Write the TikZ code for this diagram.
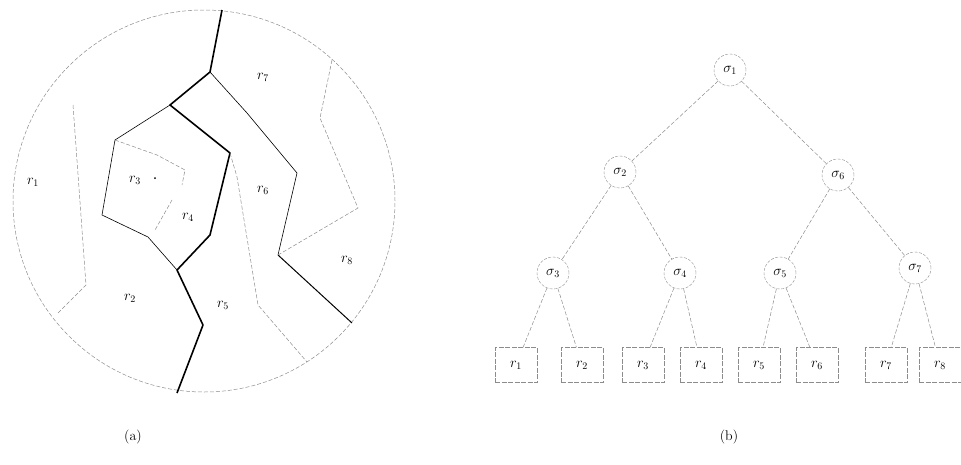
\documentclass[tikz,border=0pt]{standalone}
\usepackage{amsmath,amssymb}
\usepackage{tikz}
\usepackage{xcolor}
\usetikzlibrary{calc}
\definecolor{scan}{HTML}{8C8C8C}

\begin{document}
\begin{tikzpicture}[x=1pt,y=-1pt,every node/.style={font=\fontsize{14}{16}\selectfont}]
    \tikzstyle{cut}=[line width=1.6pt,line join=round];
    \tikzstyle{edge}=[line width=0.6pt,line join=round];
    \tikzstyle{faint}=[scan,line width=0.5pt,dash pattern=on 4pt off 2pt];
    \tikzstyle{sig}=[circle,draw=scan,dash pattern=on 3pt off 1.5pt,minimum size=32pt,inner sep=0pt];
    \tikzstyle{leaf}=[draw=scan,dash pattern=on 5pt off 1.5pt,minimum width=42pt,minimum height=35pt,inner sep=0pt];
    \useasboundingbox (0,0) rectangle (961,464);

    % (a): the partition of the disk
    \draw[faint] (204,201) circle (191pt);
    \coordinate (t0) at (222,10);  \coordinate (t1) at (210,72);
    \coordinate (t2) at (170,105); \coordinate (t3) at (230,153);
    \coordinate (t4) at (210,235); \coordinate (t5) at (177,270);
    \coordinate (t6) at (203,325); \coordinate (t7) at (177,393);
    \coordinate (p1) at (115,140); \coordinate (p2) at (102,215);
    \coordinate (p3) at (148,237);
    \coordinate (q1) at (247,113); \coordinate (q2) at (297,173);
    \coordinate (q3) at (278,255); \coordinate (q4) at (352,323);

    \draw[cut] (t0) -- (t1) -- (t2) -- (t3) -- (t4) -- (t5) -- (t6) -- (t7);
    \draw[edge] (t2) -- (p1) -- (p2) -- (p3) -- (t5);
    \draw[edge] (t1) -- (q1) -- (q2) -- (q3);
    \draw[edge,line width=1pt] (q3) -- (q4);
    \draw[faint] (t3) -- (237,177) -- (258,305) -- (307,362);
    \draw[faint] (332,60) -- (320,118) -- (358,208) -- (q3);
    \draw[faint] (73,105) -- (86,285) -- (58,313);
    \draw[faint] (p1) -- (157,155) -- (185,170) -- (182,185);
    \draw[faint] (172,200) -- (155,230);
    \fill (155,178) circle (1pt);

    \node (ra1) at (33,182)  {$r_1$};
    \node (ra2) at (130,298) {$r_2$};
    \node (ra3) at (135,180) {$r_3$};
    \node (ra4) at (188,217) {$r_4$};
    \node (ra5) at (223,305) {$r_5$};
    \node (ra6) at (263,190) {$r_6$};
    \node (ra7) at (263,77)  {$r_7$};
    \node (ra8) at (347,260) {$r_8$};

    % (b): the tree
    \node[sig] (s1) at (730,70)  {$\sigma_1$};
    \node[sig] (s2) at (620,172) {$\sigma_2$};
    \node[sig] (s6) at (838,175) {$\sigma_6$};
    \node[sig] (s3) at (553,273) {$\sigma_3$};
    \node[sig] (s4) at (680,273) {$\sigma_4$};
    \node[sig] (s5) at (780,273) {$\sigma_5$};
    \node[sig] (s7) at (915,268) {$\sigma_7$};
    \node[leaf] (r1) at (516,365) {$r_1$};
    \node[leaf] (r2) at (582,365) {$r_2$};
    \node[leaf] (r3) at (643,365) {$r_3$};
    \node[leaf] (r4) at (701,365) {$r_4$};
    \node[leaf] (r5) at (759,365) {$r_5$};
    \node[leaf] (r6) at (817,365) {$r_6$};
    \node[leaf] (r7) at (886,365) {$r_7$};
    \node[leaf] (r8) at (940,365) {$r_8$};
    \foreach \a/\b in {s1/s2,s1/s6,s2/s3,s2/s4,s6/s5,s6/s7,s3/r1,s3/r2,s4/r3,s4/r4,s5/r5,s5/r6,s7/r7,s7/r8}
        \draw[faint] (\a) -- (\b);

    % captions
    \node (capa) at (133,437) {(a)};
    \node (capb) at (729,437) {(b)};
\end{tikzpicture}
\end{document}
